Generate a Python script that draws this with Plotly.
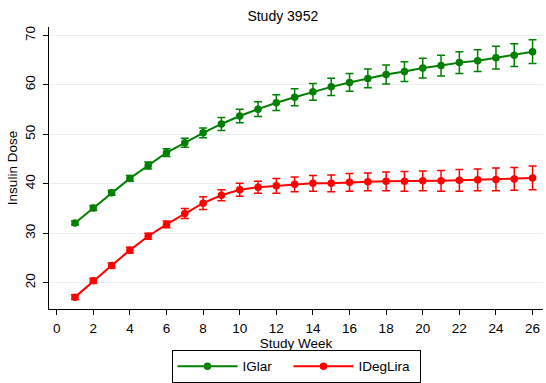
import plotly.graph_objects as go

weeks = list(range(1, 27))
iglar = [32.1, 35.1, 38.2, 41.1, 43.7, 46.3, 48.3, 50.3, 52.1, 53.7, 55.1, 56.4, 57.5,
         58.6, 59.6, 60.5, 61.3, 62.1, 62.7, 63.4, 63.9, 64.5, 64.9, 65.5, 66.0, 66.7]
iglar_err = [0.4, 0.5, 0.5, 0.6, 0.7, 0.8, 0.9, 1.0, 1.3, 1.35, 1.5, 1.6, 1.7,
             1.7, 1.75, 1.8, 1.9, 1.9, 2.0, 2.0, 2.1, 2.2, 2.2, 2.3, 2.3, 2.4]
idegl = [17.1, 20.4, 23.5, 26.6, 29.4, 31.8, 34.0, 36.1, 37.7, 38.8, 39.3, 39.6, 39.9,
         40.1, 40.1, 40.3, 40.4, 40.5, 40.5, 40.6, 40.6, 40.7, 40.8, 40.9, 41.0, 41.2]
idegl_err = [0.5, 0.5, 0.5, 0.6, 0.6, 0.7, 1.0, 1.3, 1.1, 1.3, 1.2, 1.5, 1.5,
             1.6, 1.7, 1.8, 1.8, 1.9, 2.0, 2.0, 2.1, 2.2, 2.2, 2.3, 2.3, 2.4]
x_ticks = list(range(0, 27, 2))
y_ticks = [20, 30, 40, 50, 60, 70]

FONT = "Arial, Liberation Sans, sans-serif"

fig = go.Figure()
for name, vals, err, col, lw in [("IGlar", iglar, iglar_err, "#008000", 41),
                                 ("IDegLira", idegl, idegl_err, "#ff0000", 56)]:
    fig.add_trace(go.Scatter(
        x=weeks, y=vals, name=name, mode="lines+markers",
        line=dict(color=col, width=2),
        marker=dict(color=col, size=7.5),
        legendwidth=lw,
        error_y=dict(type="data", array=err, visible=True, color=col,
                     thickness=1.5, width=4),
    ))

fig.update_layout(
    width=546, height=383,
    margin=dict(l=49, r=3, t=27, b=74, autoexpand=False),
    paper_bgcolor="white", plot_bgcolor="white",
    font=dict(family=FONT, size=13.5, color="black"),
    title=dict(text="Study 3952", x=0.518, xanchor="center", y=1 - 16 / 383,
               yanchor="middle", font=dict(size=14, color="black")),
    showlegend=True,
    legend=dict(orientation="h", x=0.5, xanchor="center", y=-0.262, yanchor="bottom",
                bordercolor="black", borderwidth=1, font=dict(size=13.5),
                itemwidth=60, entrywidthmode="pixels",
                tracegroupgap=0),
    xaxis=dict(range=[-0.42, 26.57], tickvals=x_ticks, showgrid=False,
               showline=True, linecolor="black", linewidth=1.2,
               ticks="outside", ticklen=5, tickcolor="black",
               ticklabelstandoff=2,
               title=dict(text="Study Week", standoff=0, font=dict(size=13.5)),
               zeroline=False),
    yaxis=dict(range=[14.7, 71.7], tickvals=y_ticks, tickangle=-90,
               showgrid=True, gridcolor="#e6eef2", gridwidth=1,
               showline=True, linecolor="black", linewidth=1.2,
               ticks="outside", ticklen=5, tickcolor="black",
               ticklabelstandoff=3,
               title=dict(text="Insulin Dose", standoff=1, font=dict(size=13.5)),
               zeroline=False),
)

fig.write_html("out.html")
